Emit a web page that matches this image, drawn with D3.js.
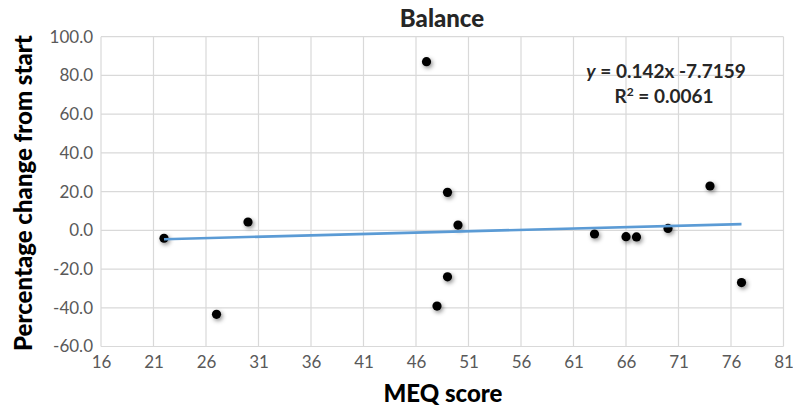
<!DOCTYPE html>
<html>
<head>
<meta charset="utf-8">
<script src="https://cdn.jsdelivr.net/npm/d3@7"></script>
<style>
  html, body { margin: 0; padding: 0; background: #fff; }
  svg { display: block; }
</style>
</head>
<body>
<svg id="chart" width="793" height="414"></svg>
<script>
// ---- data ----
const meqScores = [22, 27, 30, 47, 48, 49, 49, 50, 63, 66, 67, 70, 74, 77];
const pctChange = [-4.1, -43.4, 4.3, 87.1, -39.1, 19.6, -24.0, 2.7, -1.9, -3.3, -3.4, 1.0, 22.9, -27.0];
const xTicks = [16, 21, 26, 31, 36, 41, 46, 51, 56, 61, 66, 71, 76, 81];
const yTicks = [-60, -40, -20, 0, 20, 40, 60, 80, 100];
const trendSlope = 0.142;
const trendIntercept = -7.7159;
const chartTitle = "Balance";
const xTitle = "MEQ score";
const yTitle = "Percentage change from start";
const eqLine1 = "0.142x -7.7159";
const eqR2 = "0.0061";

// ---- layout ----
const svg = d3.select("#chart");
const W = 793, H = 414;
const m = { left: 101, right: W - 783.5, top: 36.7, bottom: H - 346.5 };
const x = d3.scaleLinear().domain([16, 81]).range([m.left, W - m.right]);
const y = d3.scaleLinear().domain([-60, 100]).range([H - m.bottom, m.top]);

const font = "Lato, 'Open Sans', 'DejaVu Sans', sans-serif";

// shadow filter
const defs = svg.append("defs");
const f = defs.append("filter").attr("id", "shadow").attr("x", "-100%").attr("y", "-100%").attr("width", "300%").attr("height", "300%");
f.append("feDropShadow").attr("dx", 1.5).attr("dy", 2).attr("stdDeviation", 2).attr("flood-color", "#000").attr("flood-opacity", 0.45);

// gridlines
const grid = svg.append("g");
grid.selectAll("line.v").data(xTicks).join("line")
  .attr("x1", d => x(d)).attr("x2", d => x(d))
  .attr("y1", y(-60)).attr("y2", y(100))
  .attr("stroke", "#d9d9d9").attr("stroke-width", 1.2);
grid.selectAll("line.h").data(yTicks).join("line")
  .attr("x1", x(16)).attr("x2", x(81))
  .attr("y1", d => y(d)).attr("y2", d => y(d))
  .attr("stroke", "#d9d9d9").attr("stroke-width", 1.2);

// axes (labels only)
const xAxis = svg.append("g").attr("transform", `translate(0,${y(-60)})`)
  .call(d3.axisBottom(x).tickValues(xTicks).tickSize(0).tickPadding(9).tickFormat(d3.format("d")));
xAxis.select(".domain").remove();
xAxis.selectAll("text").attr("font-family", font).attr("font-size", 17).attr("fill", "#595959");

const yAxis = svg.append("g").attr("transform", `translate(${x(16)},0)`)
  .call(d3.axisLeft(y).tickValues(yTicks).tickSize(0).tickPadding(8).tickFormat(d3.format(".1f")));
yAxis.select(".domain").remove();
yAxis.selectAll("text").attr("font-family", font).attr("font-size", 17).attr("fill", "#595959")
  .text(d => d3.format(".1f")(d).replace("−", "-"));

// points
svg.append("g").selectAll("circle").data(meqScores.map((v, i) => [v, pctChange[i]])).join("circle")
  .attr("cx", d => x(d[0])).attr("cy", d => y(d[1])).attr("r", 4.6)
  .attr("fill", "#000").attr("filter", "url(#shadow)");

// trendline
const xMin = d3.min(meqScores), xMax = d3.max(meqScores);
svg.append("line")
  .attr("x1", x(xMin)).attr("y1", y(trendSlope * xMin + trendIntercept))
  .attr("x2", x(xMax)).attr("y2", y(trendSlope * xMax + trendIntercept))
  .attr("stroke", "#5b9bd5").attr("stroke-width", 2.6);

// title
svg.append("text").attr("x", 442).attr("y", 27).attr("text-anchor", "middle")
  .attr("font-family", font).attr("font-weight", 900).attr("font-size", 24).attr("fill", "#262626")
  .text(chartTitle);

// axis titles
svg.append("text").attr("x", 443).attr("y", 402).attr("text-anchor", "middle")
  .attr("font-family", font).attr("font-weight", 900).attr("font-size", 24).attr("fill", "#000")
  .text(xTitle);
svg.append("text").attr("transform", "translate(32,193) rotate(-90)").attr("text-anchor", "middle")
  .attr("font-family", font).attr("font-weight", 900).attr("font-size", 24).attr("fill", "#000")
  .text(yTitle);

// equation
const eq = svg.append("text").attr("x", 666).attr("y", 78).attr("text-anchor", "middle")
  .attr("font-family", font).attr("font-weight", "bold").attr("font-size", 19).attr("fill", "#262626");
eq.append("tspan").attr("font-style", "italic").text("y");
eq.append("tspan").text(" = " + eqLine1);
const r2 = svg.append("text").attr("x", 664).attr("y", 103).attr("text-anchor", "middle")
  .attr("font-family", font).attr("font-weight", "bold").attr("font-size", 19).attr("fill", "#262626");
r2.append("tspan").text("R");
r2.append("tspan").attr("dy", -7).attr("font-size", 12).text("2");
r2.append("tspan").attr("dy", 7).text(" = " + eqR2);
</script>
</body>
</html>
